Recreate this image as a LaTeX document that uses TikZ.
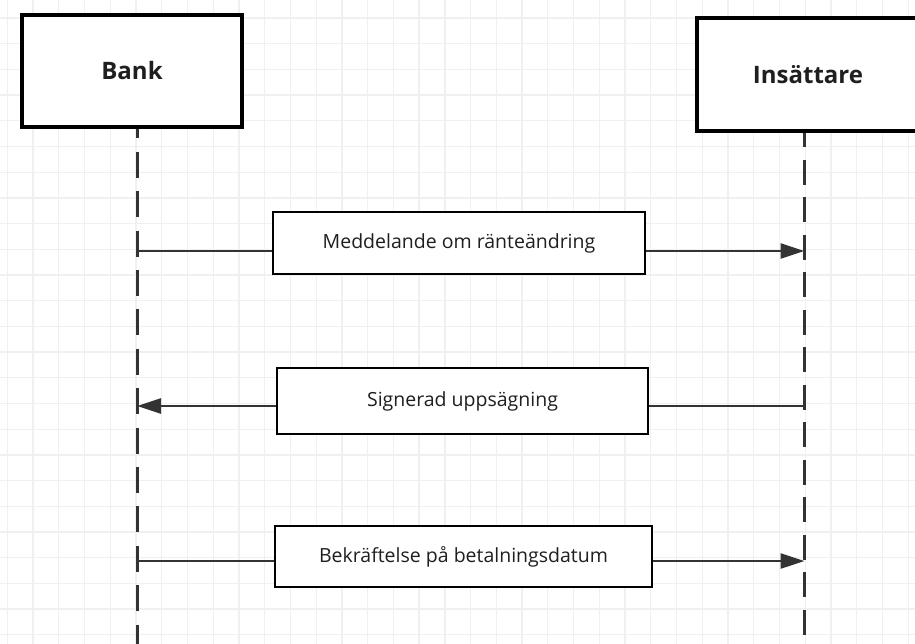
\documentclass[tikz,border=0pt]{standalone}
\usepackage{fontspec}
\setmainfont{Open Sans}
\usetikzlibrary{arrows.meta}
\begin{document}
\begin{tikzpicture}[x=1pt,y=-1pt,
  header/.style={draw=black, line width=3.6pt, fill=white, inner sep=0pt,
    font=\fontsize{24}{28}\selectfont\bfseries, text=black!88},
  msgbox/.style={draw=black, line width=1.8pt, fill=white, inner sep=0pt,
    font=\fontsize{19.5}{23}\selectfont, text=black!88},
  lifelineA/.style={draw=black!80, line width=3pt, dash pattern=on 26pt off 13.4pt, dash phase=16.4pt},
  lifelineB/.style={draw=black!80, line width=3pt, dash pattern=on 25pt off 12.5pt, dash phase=10.5pt},
  msgline/.style={draw=black!80, line width=2.8pt},
  msgarrow/.style={msgline, -{Triangle[length=24pt,width=15pt]}},
  gridline/.style={draw=black!6, line width=1.3pt}]
\useasboundingbox (0,0) rectangle (915,644);
\clip (0,0) rectangle (915,644);
\fill[white] (0,0) rectangle (915,644);
% background grid
\foreach \k in {0,...,35} \draw[gridline] ({7.3+25.74*\k},0) -- ({7.3+25.74*\k},644);
\foreach \k in {0,...,24} \draw[gridline] (0,{18+25.7*\k}) -- (915,{18+25.7*\k});
% header boxes
\node[header, minimum width=220pt, minimum height=112pt] (bank) at (132,71) {Bank};
\node[header, minimum width=222pt, minimum height=113pt] (ins) at (808,74.5) {Insättare};
% lifeline coordinates
\coordinate (bankEnd) at (137,644);
\coordinate (insEnd) at (804.5,644);
\coordinate (bankTop) at (bank.south -| bankEnd);
\coordinate (insTop) at (ins.south -| insEnd);
\draw[lifelineA] (bankTop) -- (bankEnd);
\draw[lifelineB] (insTop) -- (insEnd);
% message label boxes
\node[msgbox, minimum width=372pt, minimum height=62pt] (m1) at (459,243) {Meddelande om ränteändring};
\node[msgbox, minimum width=371pt, minimum height=66pt] (m2) at (462.5,401) {Signerad uppsägning};
\node[msgbox, minimum width=377pt, minimum height=61pt] (m3) at (463.5,556.5) {Bekräftelse på betalningsdatum};
% message endpoints on lifelines
\coordinate (a1s) at (137,251);
\coordinate (a1e) at (804.5,251);
\coordinate (a2s) at (804.5,406);
\coordinate (a2e) at (137,406);
\coordinate (a3s) at (137,561);
\coordinate (a3e) at (804.5,561);
% messages
\draw[msgline] (a1s) -- (a1s -| m1.west);
\draw[msgarrow] (a1e -| m1.east) -- (a1e);
\draw[msgline] (a2s) -- (a2s -| m2.east);
\draw[msgarrow] (a2e -| m2.west) -- (a2e);
\draw[msgline] (a3s) -- (a3s -| m3.west);
\draw[msgarrow] (a3e -| m3.east) -- (a3e);
% redraw boxes on top
\node[msgbox, minimum width=372pt, minimum height=62pt] at (m1) {Meddelande om ränteändring};
\node[msgbox, minimum width=371pt, minimum height=66pt] at (m2) {Signerad uppsägning};
\node[msgbox, minimum width=377pt, minimum height=61pt] at (m3) {Bekräftelse på betalningsdatum};
\end{tikzpicture}
\end{document}
